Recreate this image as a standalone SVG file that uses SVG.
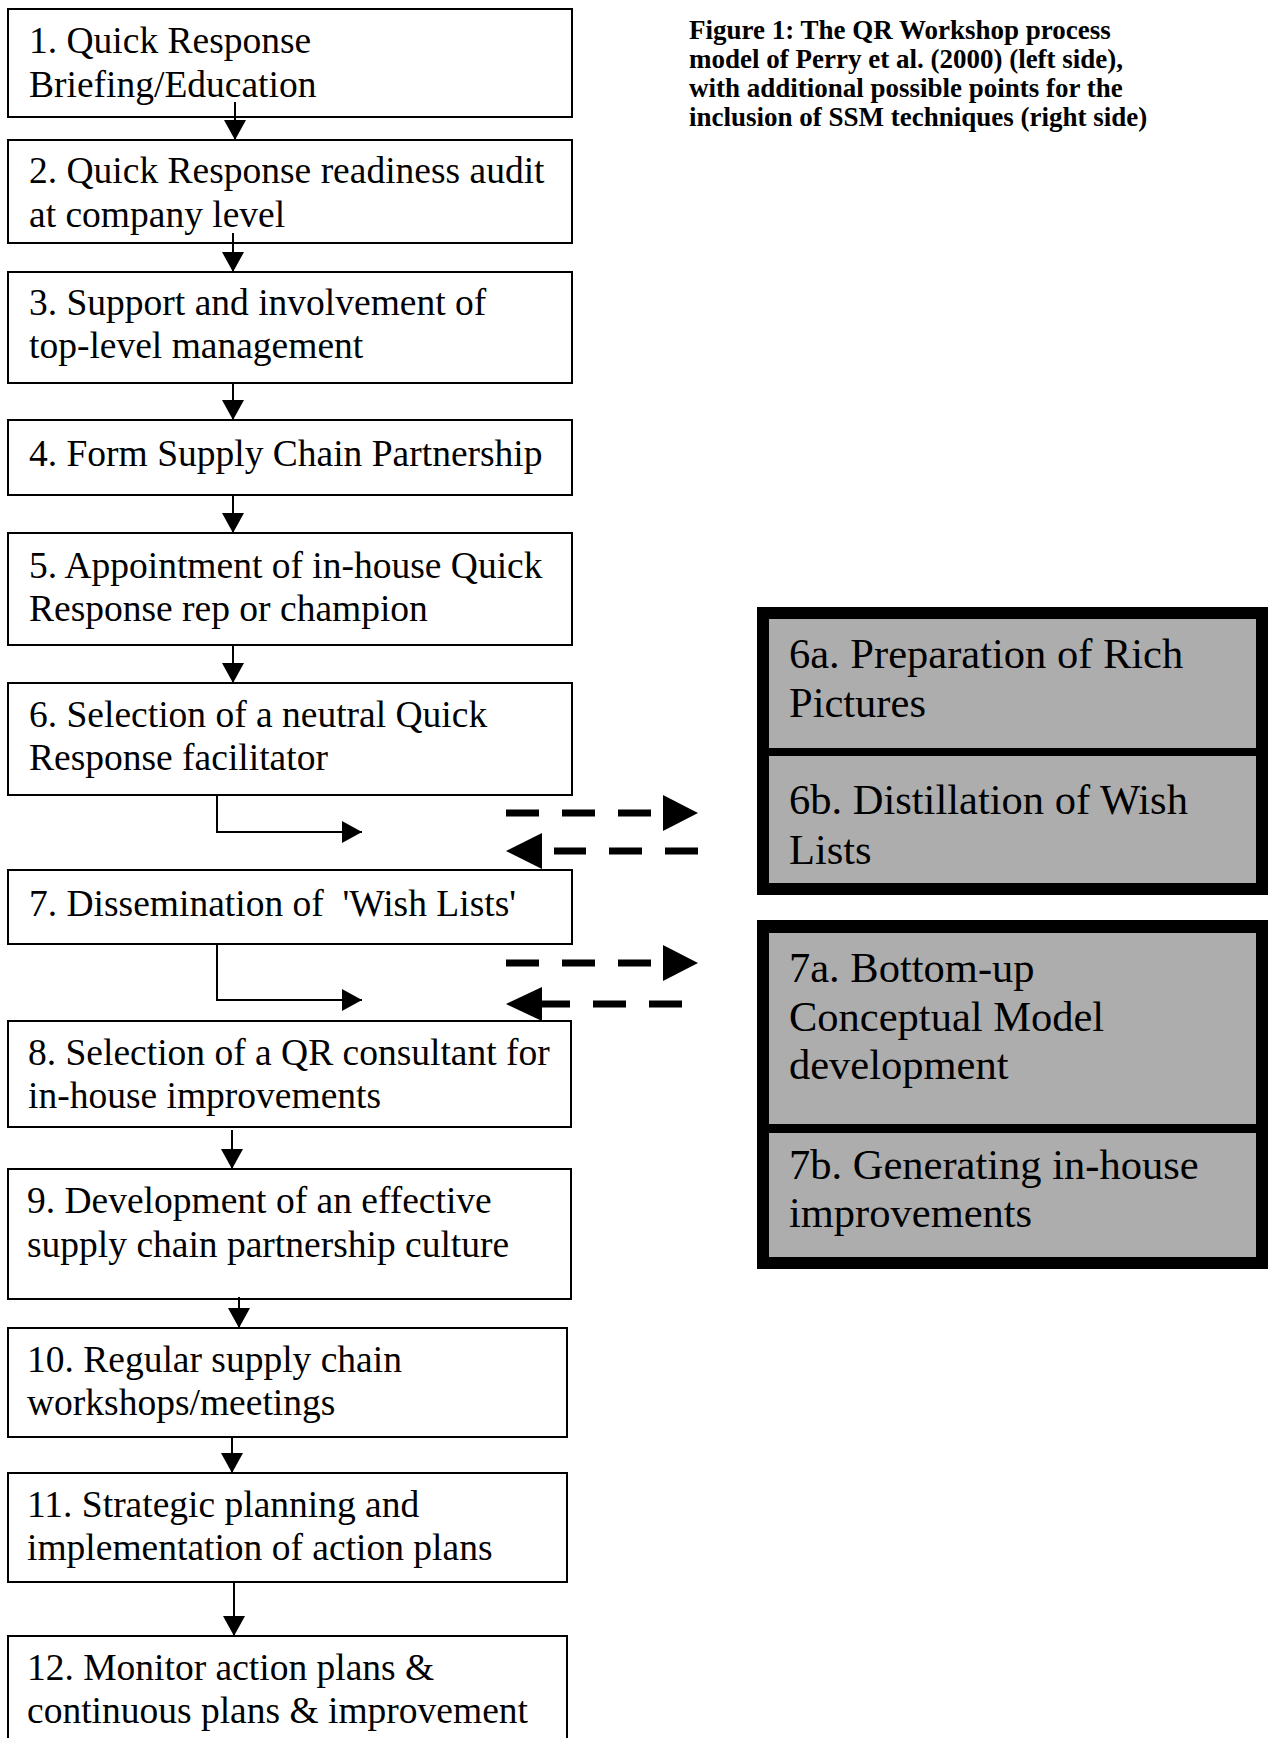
<svg xmlns="http://www.w3.org/2000/svg" width="1272" height="1738" viewBox="0 0 1272 1738">
<style>
  .box { fill: #ffffff; stroke: #000000; stroke-width: 2; }
  .t { font-family: "Liberation Serif", "Times New Roman", serif; font-size: 37.5px; fill: #000000; }
  .tr { font-family: "Liberation Serif", "Times New Roman", serif; font-size: 42.5px; fill: #000000; }
  .title { font-family: "Liberation Serif", "Times New Roman", serif; font-size: 27px; font-weight: bold; fill: #000000; }
  .frame { fill: #000000; }
  .shade { fill: #adadad; }
  .thin { fill: none; stroke: #000000; stroke-width: 2; marker-end: url(#ah); }
  .dash { fill: none; stroke: #000000; stroke-width: 7; stroke-dasharray: 33 23; }
  .head { fill: #000000; }
</style>
<defs>
  <marker id="ah" viewBox="0 0 20 22" refX="20" refY="11" markerWidth="20" markerHeight="22" markerUnits="userSpaceOnUse" orient="auto">
    <path d="M0,0 L20,11 L0,22 Z" fill="#000000"/>
  </marker>
</defs>
<rect x="0" y="0" width="1272" height="1738" fill="#ffffff"/>

<g id="title">
  <text class="title" x="689" y="39">Figure 1: The QR Workshop process</text>
  <text class="title" x="689" y="68">model of Perry et al. (2000) (left side),</text>
  <text class="title" x="689" y="97">with additional possible points for the</text>
  <text class="title" x="689" y="126">inclusion of SSM techniques (right side)</text>
</g>

<g id="n1"><rect class="box" x="8" y="9" width="564" height="108"/>
  <text class="t" x="29" y="53">1. Quick Response</text>
  <text class="t" x="29" y="97">Briefing/Education</text></g>
<g id="n2"><rect class="box" x="8" y="140" width="564" height="103"/>
  <text class="t" x="29" y="183">2. Quick Response readiness audit</text>
  <text class="t" x="29" y="227">at company level</text></g>
<g id="n3"><rect class="box" x="8" y="272" width="564" height="111"/>
  <text class="t" x="29" y="315">3. Support and involvement of</text>
  <text class="t" x="29" y="358">top-level management</text></g>
<g id="n4"><rect class="box" x="8" y="420" width="564" height="75"/>
  <text class="t" x="29" y="466">4. Form Supply Chain Partnership</text></g>
<g id="n5"><rect class="box" x="8" y="533" width="564" height="112"/>
  <text class="t" x="29" y="578">5. Appointment of in-house Quick</text>
  <text class="t" x="29" y="621">Response rep or champion</text></g>
<g id="n6"><rect class="box" x="8" y="683" width="564" height="112"/>
  <text class="t" x="29" y="727">6. Selection of a neutral Quick</text>
  <text class="t" x="29" y="770">Response facilitator</text></g>
<g id="n7"><rect class="box" x="8" y="870" width="564" height="74"/>
  <text class="t" x="29" y="916" xml:space="preserve">7. Dissemination of  'Wish Lists'</text></g>
<g id="n8"><rect class="box" x="8" y="1021" width="563" height="106"/>
  <text class="t" x="28" y="1065">8. Selection of a QR consultant for</text>
  <text class="t" x="28" y="1108">in-house improvements</text></g>
<g id="n9"><rect class="box" x="8" y="1169" width="563" height="130"/>
  <text class="t" x="27" y="1213">9. Development of an effective</text>
  <text class="t" x="27" y="1257">supply chain partnership culture</text></g>
<g id="n10"><rect class="box" x="8" y="1328" width="559" height="109"/>
  <text class="t" x="27" y="1372">10. Regular supply chain</text>
  <text class="t" x="27" y="1415">workshops/meetings</text></g>
<g id="n11"><rect class="box" x="8" y="1473" width="559" height="109"/>
  <text class="t" x="27" y="1517">11. Strategic planning and</text>
  <text class="t" x="27" y="1560">implementation of action plans</text></g>
<g id="n12"><rect class="box" x="8" y="1636" width="559" height="120"/>
  <text class="t" x="27" y="1680">12. Monitor action plans &amp;</text>
  <text class="t" x="27" y="1723">continuous plans &amp; improvement</text></g>

<g id="n6ab">
  <rect class="frame" x="757" y="607" width="511" height="288"/>
  <rect class="shade" x="769" y="619" width="487" height="129"/>
  <rect class="shade" x="769" y="756" width="487" height="127"/>
  <text class="tr" x="789" y="668">6a. Preparation of Rich</text>
  <text class="tr" x="789" y="717">Pictures</text>
  <text class="tr" x="789" y="814">6b. Distillation of Wish</text>
  <text class="tr" x="789" y="864">Lists</text>
</g>
<g id="n7ab">
  <rect class="frame" x="757" y="920" width="511" height="349"/>
  <rect class="shade" x="769" y="933" width="487" height="191"/>
  <rect class="shade" x="769" y="1133" width="487" height="124"/>
  <text class="tr" x="789" y="982">7a. Bottom-up</text>
  <text class="tr" x="789" y="1031">Conceptual Model</text>
  <text class="tr" x="789" y="1079">development</text>
  <text class="tr" x="789" y="1179">7b. Generating in-house</text>
  <text class="tr" x="789" y="1227">improvements</text>
</g>

<g id="connectors">
  <path class="thin" d="M235,102 L235,140"/>
  <path class="thin" d="M233,233 L233,272"/>
  <path class="thin" d="M233,383 L233,420"/>
  <path class="thin" d="M233,495 L233,533"/>
  <path class="thin" d="M233,645 L233,683"/>
  <path class="thin" d="M232,1130 L232,1169"/>
  <path class="thin" d="M239,1297 L239,1328"/>
  <path class="thin" d="M232,1437 L232,1473"/>
  <path class="thin" d="M234,1582 L234,1636"/>
  <path class="thin" d="M217,795 L217,832 L362,832"/>
  <path class="thin" d="M217,944 L217,1000 L362,1000"/>

  <path class="dash" d="M506,813 L651,813"/>
  <polygon class="head" points="663,795 698,813 663,831"/>
  <path class="dash" d="M698,851 L554,851"/>
  <polygon class="head" points="506,851 542,833 542,869"/>
  <path class="dash" d="M506,963 L651,963"/>
  <polygon class="head" points="663,945 698,963 663,981"/>
  <path class="dash" d="M682,1004 L542,1004"/>
  <polygon class="head" points="506,1004 542,987 542,1021"/>
</g>
</svg>
